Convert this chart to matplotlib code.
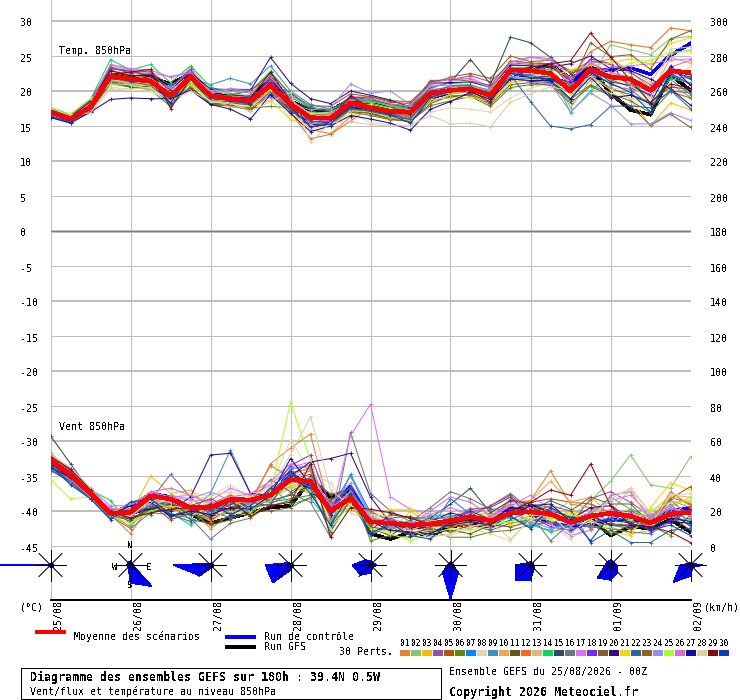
import numpy as np
import matplotlib
matplotlib.use("Agg")
import matplotlib.pyplot as plt
from matplotlib.patches import Rectangle, Polygon
from matplotlib.transforms import ScaledTranslation

plt.rcParams['font.family'] = ['DejaVu Sans Mono', 'DejaVu Sans']
plt.rcParams['text.antialiased'] = False
plt.rcParams['lines.antialiased'] = False
plt.rcParams['patch.antialiased'] = False

hours = list(range(0, 193, 6))
dates = ['25/08', '26/08', '27/08', '28/08', '29/08', '30/08', '31/08', '01/09', '02/09']

colors = ['#E8822E', '#86C470', '#F0C000', '#8E54A8', '#B35410', '#5B8A0C', '#0A84F0', '#E6D6B0',
          '#3F8FBF', '#E8A850', '#6B5020', '#F56A1E', '#D2C07A', '#08D860', '#2C4A60', '#6C7880',
          '#E070F0', '#7A28F0', '#7C6030', '#340A78', '#F0D800', '#2A66A0', '#8E5E24', '#9C8CEC',
          '#A8FF30', '#D070D0', '#1C0AA0', '#E0CCA8', '#840810', '#0A3CC0']

# temperature 850hPa, degC, one row per perturbed member
temp_members = [
    [17.3, 16.2, 18.0, 23.0, 22.3, 21.9, 19.6, 22.4, 19.6, 19.0, 18.7, 21.5, 17.4, 14.5, 13.9, 16.3, 17.9, 17.0, 16.6, 19.3, 20.5, 20.6, 19.8, 22.9, 22.5, 23.7, 21.6, 23.9, 24.6, 22.8, 20.4, 21.0, 19.1],
    [17.5, 16.4, 18.6, 23.5, 22.6, 22.4, 20.0, 22.9, 20.0, 19.5, 19.4, 22.3, 18.4, 16.8, 16.3, 18.9, 18.3, 17.6, 17.4, 20.2, 20.5, 20.9, 19.9, 23.2, 23.1, 23.0, 17.6, 21.6, 26.6, 25.9, 25.2, 27.5, 27.8],
    [17.0, 15.9, 17.4, 21.8, 21.2, 21.0, 19.8, 21.0, 18.6, 18.1, 17.6, 20.3, 16.6, 15.4, 15.2, 17.4, 16.9, 16.4, 16.2, 19.0, 19.8, 20.0, 18.9, 21.4, 22.1, 22.2, 20.9, 21.8, 20.6, 18.9, 15.0, 18.3, 17.3],
    [17.1, 16.1, 18.2, 23.3, 22.9, 22.7, 20.8, 22.7, 19.9, 20.3, 20.2, 21.7, 19.2, 17.4, 17.2, 19.2, 19.0, 18.1, 17.9, 21.5, 21.6, 22.2, 21.3, 24.0, 23.8, 23.9, 22.7, 24.3, 23.8, 22.6, 20.9, 22.4, 21.0],
    [16.9, 15.8, 17.9, 22.6, 22.1, 22.5, 19.1, 22.2, 19.7, 19.0, 18.9, 20.6, 18.9, 16.6, 16.6, 19.0, 19.2, 18.6, 18.5, 21.0, 22.0, 22.5, 21.8, 25.0, 24.2, 24.4, 22.9, 23.4, 21.6, 20.6, 19.3, 23.0, 22.3],
    [16.6, 15.7, 17.2, 21.0, 20.6, 20.2, 17.8, 20.7, 18.0, 17.9, 17.6, 17.8, 17.6, 17.0, 16.9, 17.0, 16.5, 15.9, 15.7, 17.9, 18.6, 19.2, 17.8, 20.5, 20.9, 20.9, 18.8, 20.9, 19.6, 18.6, 16.9, 19.9, 19.0],
    [16.8, 16.0, 17.5, 21.2, 20.7, 21.6, 19.0, 21.5, 19.3, 18.7, 18.4, 20.7, 19.9, 17.4, 15.8, 18.3, 17.3, 16.7, 16.4, 19.6, 20.2, 20.5, 19.9, 22.4, 22.2, 21.4, 21.0, 22.2, 21.9, 21.2, 20.4, 21.7, 19.5],
    [16.5, 15.8, 16.8, 20.3, 20.1, 20.0, 18.5, 20.3, 18.5, 18.2, 17.9, 19.8, 16.0, 14.6, 15.1, 16.9, 15.5, 15.2, 15.0, 17.0, 17.6, 17.4, 17.0, 19.0, 20.4, 21.1, 20.7, 21.3, 19.7, 19.0, 17.9, 21.2, 23.6],
    [17.2, 16.3, 17.8, 22.0, 21.8, 21.3, 19.4, 21.9, 20.9, 21.8, 21.0, 23.6, 20.0, 18.1, 17.4, 18.8, 18.7, 17.9, 17.4, 20.1, 20.6, 20.4, 19.9, 22.0, 22.4, 22.6, 20.5, 21.9, 22.5, 21.0, 19.9, 22.1, 21.8],
    [17.4, 16.5, 18.4, 22.8, 22.4, 21.5, 19.9, 23.5, 19.8, 18.4, 18.2, 20.0, 18.0, 16.5, 16.6, 18.1, 18.5, 18.0, 17.2, 19.4, 20.4, 20.8, 20.1, 23.9, 23.5, 24.7, 22.5, 24.2, 22.0, 21.2, 19.1, 24.8, 24.0],
    [16.7, 15.9, 17.3, 21.4, 20.8, 20.6, 18.4, 20.5, 18.3, 18.0, 17.2, 19.6, 17.2, 15.9, 16.2, 17.1, 16.8, 16.1, 15.9, 18.6, 19.1, 19.6, 18.3, 21.8, 21.4, 21.2, 19.7, 22.3, 20.3, 19.5, 18.4, 20.6, 20.2],
    [17.3, 16.0, 18.1, 22.2, 21.9, 21.7, 19.0, 22.3, 19.1, 18.9, 18.7, 20.5, 17.0, 13.2, 13.8, 15.7, 17.7, 16.9, 16.4, 19.1, 20.0, 20.3, 19.5, 22.7, 22.8, 23.2, 22.0, 25.6, 27.1, 26.6, 26.2, 29.0, 28.6],
    [16.9, 16.1, 17.6, 22.5, 21.4, 20.9, 19.2, 21.7, 19.0, 18.6, 18.3, 19.3, 17.9, 16.9, 16.7, 18.0, 17.4, 16.3, 16.1, 18.4, 19.5, 19.9, 18.7, 21.5, 22.0, 23.1, 20.1, 21.4, 21.5, 23.0, 21.3, 25.3, 25.9],
    [17.6, 16.6, 18.8, 24.5, 23.0, 23.8, 21.2, 23.6, 20.6, 19.6, 20.0, 22.8, 19.4, 17.7, 17.3, 18.6, 18.6, 17.8, 17.5, 20.6, 21.1, 20.9, 20.0, 23.4, 23.3, 23.0, 16.9, 20.0, 22.3, 22.1, 18.1, 21.8, 21.2],
    [17.0, 16.4, 17.7, 21.7, 21.5, 21.2, 18.8, 22.0, 19.6, 19.2, 19.3, 20.9, 18.4, 17.6, 16.9, 19.1, 18.8, 18.1, 17.6, 20.4, 21.3, 24.5, 21.0, 27.7, 26.9, 24.8, 22.5, 23.5, 21.3, 20.8, 19.4, 23.1, 21.7],
    [16.4, 15.7, 17.0, 22.3, 21.6, 21.1, 18.0, 21.2, 18.8, 18.5, 18.1, 21.1, 17.5, 16.0, 15.6, 17.3, 17.2, 16.6, 16.3, 19.2, 20.3, 20.4, 19.2, 21.9, 21.8, 21.3, 18.6, 23.0, 20.9, 20.2, 18.0, 20.0, 19.7],
    [17.1, 16.2, 18.3, 23.7, 23.0, 22.6, 22.0, 22.8, 19.5, 19.3, 19.1, 19.2, 18.3, 15.3, 15.9, 19.4, 17.5, 17.3, 15.9, 20.3, 21.4, 21.9, 20.6, 23.6, 24.8, 24.4, 20.9, 21.9, 23.4, 23.6, 23.9, 24.4, 24.6],
    [17.2, 15.9, 17.6, 23.2, 22.8, 22.2, 20.5, 23.1, 19.4, 19.1, 18.6, 21.9, 18.6, 15.6, 15.7, 18.5, 17.8, 17.1, 16.8, 20.0, 20.3, 20.6, 19.6, 23.2, 23.0, 23.6, 21.4, 24.6, 23.9, 20.4, 19.5, 22.6, 20.9],
    [16.8, 15.6, 17.1, 21.3, 20.5, 20.4, 18.9, 20.2, 18.2, 17.8, 17.4, 19.9, 17.3, 16.3, 16.4, 17.6, 16.7, 16.0, 15.6, 18.2, 19.3, 19.4, 18.1, 20.9, 21.2, 20.8, 18.3, 20.7, 19.3, 17.9, 15.1, 16.7, 14.8],
    [17.4, 16.3, 18.5, 22.9, 22.2, 22.3, 20.2, 22.6, 20.3, 20.2, 20.1, 24.8, 21.1, 18.9, 18.2, 20.0, 19.4, 18.7, 17.7, 21.1, 21.2, 21.3, 20.5, 23.7, 23.6, 23.4, 23.9, 25.0, 23.2, 22.9, 21.7, 20.3, 18.0],
    [16.7, 16.0, 17.4, 21.6, 21.1, 20.7, 19.5, 20.9, 18.9, 17.7, 17.8, 18.7, 15.9, 15.1, 14.9, 17.2, 17.0, 16.2, 15.8, 18.8, 19.0, 19.1, 18.5, 21.2, 21.6, 22.0, 23.0, 23.7, 24.0, 24.6, 23.9, 26.8, 27.6],
    [16.3, 15.5, 17.5, 21.9, 21.3, 20.8, 18.2, 21.4, 18.7, 18.3, 18.0, 20.4, 17.1, 15.7, 15.4, 17.5, 17.1, 16.5, 16.0, 19.5, 20.8, 20.7, 19.0, 22.3, 18.5, 15.0, 14.6, 15.2, 17.8, 17.9, 17.6, 20.1, 17.5],
    [17.0, 16.6, 18.7, 23.4, 22.5, 22.9, 19.7, 22.1, 19.2, 19.4, 20.0, 22.5, 19.6, 17.9, 17.8, 19.6, 19.2, 18.4, 18.2, 21.3, 21.7, 21.4, 20.8, 24.3, 24.0, 23.9, 20.7, 26.9, 24.9, 25.2, 23.1, 27.4, 28.6],
    [16.6, 15.8, 17.3, 21.5, 21.0, 21.4, 20.4, 21.6, 20.0, 20.3, 20.0, 19.0, 18.2, 17.3, 17.6, 21.0, 19.7, 20.0, 18.0, 20.9, 20.7, 20.5, 20.2, 22.1, 21.3, 21.0, 17.0, 19.7, 18.0, 15.3, 15.3, 16.9, 15.8],
    [17.7, 16.7, 18.9, 21.0, 20.9, 20.3, 18.7, 21.3, 18.4, 18.8, 18.5, 20.2, 18.7, 16.7, 17.0, 18.2, 18.1, 17.5, 16.9, 19.8, 19.6, 20.1, 19.3, 22.5, 22.7, 22.3, 19.5, 23.3, 22.4, 24.0, 24.4, 25.6, 25.6],
    [17.2, 16.1, 18.2, 23.8, 23.2, 23.0, 22.0, 22.6, 19.7, 20.0, 19.7, 22.0, 18.8, 16.4, 16.8, 18.7, 18.9, 18.2, 17.8, 21.0, 21.8, 21.7, 20.4, 24.1, 24.9, 24.6, 21.8, 24.0, 22.7, 21.8, 20.0, 23.4, 24.4],
    [16.2, 15.4, 17.0, 18.8, 19.0, 18.9, 18.9, 20.1, 18.1, 17.4, 16.0, 19.5, 16.8, 14.2, 15.0, 16.5, 16.0, 15.4, 14.4, 17.4, 18.5, 19.8, 18.8, 21.7, 21.5, 21.5, 18.9, 22.0, 19.0, 19.4, 18.2, 23.6, 20.8],
    [17.5, 16.5, 16.9, 20.5, 20.3, 20.5, 18.6, 20.0, 18.6, 18.3, 17.1, 18.5, 19.8, 12.7, 15.5, 15.6, 15.2, 15.0, 15.1, 16.5, 15.3, 15.4, 14.9, 18.4, 19.6, 20.6, 20.0, 22.1, 20.2, 20.7, 19.0, 26.0, 26.3],
    [17.1, 16.3, 17.8, 22.4, 22.7, 23.1, 17.5, 21.8, 19.5, 19.0, 19.0, 22.7, 18.5, 16.1, 16.0, 19.3, 17.6, 16.8, 16.7, 19.9, 20.2, 20.0, 18.4, 22.8, 23.4, 23.9, 24.3, 28.3, 24.9, 21.5, 18.3, 21.0, 20.4],
    [16.4, 15.6, 17.7, 22.2, 21.5, 21.6, 18.3, 22.3, 19.0, 18.6, 18.2, 21.2, 17.7, 14.9, 15.3, 17.8, 17.3, 16.6, 15.4, 19.1, 19.9, 20.2, 19.1, 22.6, 21.9, 21.7, 20.2, 22.6, 21.1, 19.8, 17.0, 22.7, 22.0],
]
temp_mean = [17.0, 16.0, 17.7, 22.1, 21.7, 21.4, 19.3, 22.1, 19.3, 18.9, 18.6, 20.8, 18.1, 16.2, 16.1, 18.3, 17.6, 17.1, 17.0, 19.7, 20.1, 20.3, 19.4, 23.0, 22.9, 22.5, 20.0, 23.1, 22.0, 21.7, 20.1, 22.9, 22.6]
temp_control = [17.0, 16.0, 17.6, 22.0, 21.7, 21.5, 18.4, 22.0, 19.0, 18.6, 18.4, 21.3, 17.6, 15.1, 15.3, 17.6, 17.0, 16.6, 15.8, 19.0, 19.8, 20.0, 19.2, 22.6, 22.0, 21.8, 21.1, 23.3, 22.9, 23.3, 22.4, 25.1, 26.8]
temp_gfs = [17.0, 16.0, 17.7, 22.3, 22.0, 22.0, 21.0, 22.5, 19.5, 19.3, 19.0, 21.9, 18.6, 17.2, 17.2, 18.8, 18.2, 17.5, 17.0, 19.7, 20.0, 20.3, 19.2, 23.0, 22.9, 23.7, 21.8, 23.3, 19.7, 17.3, 16.6, 22.3, 20.1]

# wind 850hPa, km/h, same members
wind_members = [
    [50, 41, 30, 18, 7, 24, 20, 22, 10, 18, 24, 47, 56, 64, 19, 24, 16, 12, 9, 14, 11, 19, 14, 20, 26, 43, 24, 22, 19, 16, 13, 26, 22],
    [47, 39, 32, 19, 14, 22, 25, 17, 21, 24, 19, 28, 34, 30, 14, 22, 13, 15, 10, 8, 13, 17, 12, 14, 17, 19, 16, 26, 37, 52, 35, 33, 51],
    [49, 42, 28, 21, 18, 40, 30, 32, 21, 20, 23, 29, 36, 32, 23, 27, 11, 8, 20, 12, 16, 22, 15, 18, 22, 15, 20, 18, 11, 7, 9, 22, 28],
    [45, 38, 31, 17, 22, 26, 41, 28, 18, 27, 19, 30, 42, 44, 18, 31, 15, 13, 12, 15, 17, 19, 23, 30, 21, 20, 12, 27, 31, 25, 17, 26, 17],
    [52, 43, 33, 20, 20, 29, 17, 21, 24, 29, 24, 32, 38, 41, 11, 25, 8, 11, 6, 11, 12, 10, 16, 26, 25, 27, 25, 24, 19, 20, 15, 28, 24],
    [46, 40, 29, 19, 17, 18, 25, 20, 15, 21, 26, 25, 27, 29, 26, 33, 3, 6, 5, 9, 5, 5, 8, 9, 12, 14, 10, 12, 7, 12, 12, 6, 18],
    [44, 37, 27, 18, 25, 28, 22, 24, 20, 16, 21, 27, 44, 46, 16, 41, 19, 15, 13, 10, 27, 18, 11, 17, 11, 14, 8, 15, 20, 15, 9, 20, 11],
    [51, 44, 30, 22, 21, 27, 26, 31, 28, 35, 27, 33, 61, 42, 36, 19, 14, 8, 11, 6, 6, 10, 7, 3, 16, 12, 4, 13, 16, 9, 14, 16, 27],
    [48, 39, 30, 20, 19, 25, 23, 19, 30, 55, 30, 25, 37, 34, 22, 40, 17, 10, 14, 12, 15, 14, 17, 24, 12, 9, 15, 19, 14, 17, 11, 24, 13],
    [50, 41, 31, 19, 24, 30, 28, 29, 25, 23, 19, 30, 40, 45, 20, 26, 12, 17, 9, 13, 10, 16, 20, 25, 26, 37, 25, 28, 18, 21, 16, 28, 25],
    [47, 38, 28, 16, 16, 20, 24, 15, 13, 17, 25, 23, 26, 35, 25, 24, 10, 6, 13, 8, 9, 7, 12, 11, 14, 17, 13, 17, 12, 10, 13, 13, 21],
    [53, 43, 32, 18, 11, 26, 21, 20, 14, 22, 26, 46, 39, 43, 15, 25, 20, 14, 12, 11, 13, 11, 13, 27, 24, 22, 14, 17, 20, 14, 12, 31, 23],
    [46, 40, 29, 21, 20, 23, 27, 18, 22, 30, 22, 27, 33, 38, 21, 28, 18, 12, 8, 9, 14, 14, 19, 19, 23, 18, 26, 21, 19, 33, 19, 29, 28],
    [49, 42, 32, 26, 12, 21, 19, 12, 19, 25, 18, 34, 24, 27, 13, 32, 16, 10, 15, 17, 18, 13, 15, 16, 13, 8, 11, 18, 28, 21, 16, 19, 15],
    [63, 47, 31, 20, 15, 22, 26, 23, 17, 19, 28, 26, 29, 40, 29, 33, 9, 18, 16, 16, 24, 33, 19, 26, 24, 20, 17, 14, 15, 13, 10, 18, 12],
    [44, 36, 27, 17, 10, 19, 18, 16, 4, 13, 16, 24, 30, 25, 5, 65, 30, 20, 14, 22, 31, 27, 21, 21, 18, 3, 13, 11, 10, 8, 7, 14, 16],
    [48, 41, 33, 23, 23, 31, 28, 26, 26, 33, 29, 35, 45, 48, 17, 63, 81, 28, 21, 18, 22, 18, 16, 23, 29, 21, 11, 20, 26, 29, 18, 23, 17],
    [50, 43, 30, 20, 18, 27, 24, 21, 17, 24, 27, 31, 46, 52, 22, 34, 13, 16, 11, 13, 15, 21, 22, 28, 17, 11, 9, 13, 16, 19, 8, 15, 20],
    [45, 37, 29, 19, 14, 24, 15, 19, 12, 15, 20, 20, 22, 28, 27, 29, 11, 9, 7, 10, 8, 12, 9, 13, 15, 13, 17, 10, 13, 11, 15, 17, 9],
    [47, 39, 28, 18, 20, 21, 20, 28, 52, 53, 30, 29, 40, 48, 50, 53, 28, 13, 10, 14, 19, 16, 14, 22, 20, 18, 15, 22, 23, 16, 14, 16, 14],
    [49, 40, 30, 21, 22, 25, 22, 24, 16, 20, 17, 26, 35, 31, 19, 23, 15, 21, 21, 15, 12, 13, 18, 12, 18, 16, 19, 15, 8, 6, 22, 36, 32],
    [43, 37, 27, 16, 19, 23, 18, 14, 20, 26, 22, 24, 41, 33, 8, 27, 6, 12, 12, 16, 16, 15, 10, 15, 20, 26, 21, 2, 9, 2, 2, 9, 10],
    [51, 42, 31, 20, 16, 28, 16, 23, 27, 22, 25, 38, 31, 37, 30, 30, 12, 16, 17, 12, 11, 17, 23, 29, 19, 23, 20, 28, 24, 24, 13, 27, 34],
    [46, 38, 28, 22, 17, 24, 29, 27, 31, 26, 24, 28, 37, 39, 24, 36, 17, 11, 13, 18, 14, 12, 11, 19, 14, 10, 12, 16, 21, 18, 17, 21, 19],
    [38, 27, 28, 17, 13, 20, 23, 17, 23, 27, 20, 31, 82, 49, 10, 24, 10, 7, 3, 7, 10, 9, 12, 14, 16, 15, 18, 14, 11, 15, 20, 25, 26],
    [48, 40, 30, 21, 21, 31, 33, 29, 24, 28, 30, 37, 47, 44, 21, 31, 16, 14, 12, 20, 28, 25, 17, 24, 22, 13, 6, 9, 29, 31, 15, 22, 18],
    [45, 39, 29, 18, 23, 25, 17, 20, 18, 22, 21, 29, 50, 35, 18, 28, 14, 9, 8, 7, 13, 15, 13, 18, 23, 24, 14, 18, 12, 12, 11, 14, 13],
    [52, 45, 33, 19, 17, 26, 25, 25, 29, 31, 28, 34, 52, 74, 32, 23, 18, 17, 9, 5, 7, 11, 14, 4, 15, 18, 7, 16, 27, 33, 12, 29, 30],
    [51, 44, 32, 20, 16, 19, 21, 22, 16, 26, 17, 23, 25, 47, 5, 22, 21, 19, 16, 12, 12, 14, 12, 20, 25, 32, 29, 47, 23, 12, 11, 8, 2],
    [46, 35, 27, 15, 25, 27, 18, 18, 24, 18, 23, 33, 43, 30, 12, 30, 7, 13, 6, 4, 14, 20, 15, 17, 10, 22, 16, 3, 18, 13, 9, 12, 6],
]
wind_mean = [49, 40.6, 30, 18.7, 19.3, 28.7, 26.8, 21.9, 22, 26.7, 26.3, 29.1, 38, 36.8, 20.2, 27.2, 13.8, 13, 12, 12.6, 14.5, 16.8, 14.3, 18.7, 19.6, 18.3, 13.5, 17.1, 18.7, 17.1, 13.3, 18.3, 19.3]
wind_control = [46, 40, 31, 20, 22, 30, 28, 22, 21, 21, 26, 28, 42, 33, 22, 34, 14, 12, 10, 12, 14, 16, 13, 22, 19, 13, 11, 12, 15, 14, 14, 20, 22]
wind_gfs = [47, 40, 30, 19, 19, 21, 23, 18, 13, 16, 19, 22, 23, 38, 28, 32, 7, 4, 8, 6, 11, 13, 11, 20, 23, 18, 13, 16, 6, 11, 10, 15, 8]

# wind rose, one row per day, radius in pixels for N, NE, E, SE, S, SW, W, NW
rose_radius = [
    [1, 1, 1, 1, 1, 1, 50, 1],
    [4, 2, 2, 30, 18, 3, 4, 3],
    [1, 2, 3, 3, 3, 15, 37, 2],
    [1, 1, 2, 2, 5, 25, 25, 3],
    [4, 3, 6, 3, 8, 14, 18, 7],
    [3, 2, 2, 11, 34, 11, 3, 2],
    [3, 3, 3, 5, 15, 21, 15, 3],
    [5, 4, 6, 10, 15, 18, 5, 4],
    [2, 2, 12, 3, 11, 24, 10, 2],
]

GRID = '#BEBEBE'
BLUE = '#0000FF'
PX = 0.72  # px -> pt at dpi 100
FS = 7.2


def px_rect(left, top, right, bottom):
    return [left / 740, 1 - bottom / 700, (right - left) / 740, (bottom - top) / 700]


fig = plt.figure(figsize=(7.4, 7.0), dpi=100)
ax = fig.add_axes(px_rect(50.5, 0, 690.5, 600))
ax.set_xlim(0, 192)
ax.set_ylim(-45 - 54 / 7, 33)
ax2 = ax.twinx()
ax2.set_ylim((-54 / 7) * 4, 78 * 4)

# grid
ax.set_yticks(list(range(-45, 31, 5)))
ax.set_yticklabels([str(v) for v in range(-45, 31, 5)], fontsize=FS)
ax.set_xticks(hours[::4])
ax.set_xticklabels(dates, rotation=90, fontsize=FS, va='top', ha='center')
ax.set_axisbelow(True)
ax.grid(True, color=GRID, linewidth=PX)
for val, line in zip(range(-45, 31, 5), ax.get_ygridlines()):
    if val == 0:
        line.set_linewidth(3 * PX)
    elif val % 10 == 0:
        line.set_linewidth(2 * PX)
ax.axhline(0, color='#808080', lw=PX, zorder=1.5)
for s in ['left', 'right', 'top']:
    ax.spines[s].set_visible(False)
    ax2.spines[s].set_visible(False)
ax2.spines['bottom'].set_visible(False)
ax.spines['bottom'].set_linewidth(2 * PX)
ax.tick_params(axis='y', length=0, pad=22)
ax.tick_params(axis='x', length=0, pad=0)
ax2.set_yticks(list(range(0, 301, 20)))
ax2.set_yticklabels([str(v) for v in range(0, 301, 20)], fontsize=FS)
ax2.tick_params(axis='y', length=0, pad=14)

# tick labels sit a little lower than their lines, dates right of theirs
down = ScaledTranslation(0, -1.5 / 100, fig.dpi_scale_trans)
right = ScaledTranslation(7.5 / 100, 0, fig.dpi_scale_trans)
for lab in ax.get_yticklabels():
    lab.set_ha('left')
    lab.set_transform(lab.get_transform() + down)
for lab in ax2.get_yticklabels():
    lab.set_transform(lab.get_transform() + down)
for lab in ax.get_xticklabels():
    lab.set_transform(lab.get_transform() + right)

# gfs and control first, members over them, mean on top
ax.plot(hours, temp_gfs, color='black', lw=2.5 * PX, zorder=2.5)
ax.plot(hours, temp_control, color=BLUE, lw=2.5 * PX, zorder=2.6)
ax2.plot(hours, wind_gfs, color='black', lw=2.5 * PX, zorder=2.5)
ax2.plot(hours, wind_control, color=BLUE, lw=2.5 * PX, zorder=2.6)
thin = dict(lw=0.75, marker='+', ms=2.8, mew=0.6, antialiased=True, zorder=3)
for i in range(30):
    ax.plot(hours, temp_members[i], color=colors[i], **thin)
    ax2.plot(hours, wind_members[i], color=colors[i], **thin)
ax.plot(hours, temp_mean, color='#FF0000', lw=3.5 * PX, zorder=6)
ax2.plot(hours, wind_mean, color='#FF0000', lw=3.5 * PX, zorder=6)

# overlay in pixel coordinates for the roses and the legend block
ov = fig.add_axes([0, 0, 1, 1])
ov.set_xlim(0, 740)
ov.set_ylim(700, 0)
ov.axis('off')
ov.patch.set_alpha(0)

angles = np.deg2rad(np.arange(0, 360, 45))
star = dict(color='black', lw=0.75, antialiased=True, zorder=3)
for day in range(9):
    cx = 50.5 + 80 * day
    cy = 565
    r = np.array(rose_radius[day])
    ov.add_patch(Polygon(np.c_[cx + r * np.sin(angles), cy - r * np.cos(angles)], closed=True,
                         facecolor=BLUE, edgecolor=BLUE, lw=0.5 * PX, zorder=2))
    ov.plot([cx - 15.5, cx + 15.5], [cy, cy], **star)
    ov.plot([cx, cx], [cy - 15.5, cy + 15.5], **star)
    ov.plot([cx - 11.5, cx + 11.5], [cy - 11.5, cy + 11.5], **star)
    ov.plot([cx - 11.5, cx + 11.5], [cy + 11.5, cy - 11.5], **star)
    ov.plot([cx], [cy], 'o', color='#000033', ms=4, mew=0, zorder=4)

small = dict(fontsize=6.2, ha='center', va='center', fontweight='bold', zorder=5)
ov.text(130.5, 546, 'N', **small)
ov.text(130.5, 586, 'S', **small)
ov.text(115, 567, 'W', **small)
ov.text(149, 567, 'E', **small)

txt = dict(fontsize=FS, va='center', ha='left')
ov.text(59, 51, 'Temp. 850hPa', **txt)
ov.text(59, 427, 'Vent 850hPa', **txt)
ov.text(20, 607, '(°C)', **txt)
ov.text(703.5, 607, '(km/h)', **txt)

ov.add_patch(Rectangle((35, 630), 31, 4, facecolor='#FF0000', edgecolor='none'))
ov.add_patch(Rectangle((225, 635), 31, 4, facecolor=BLUE, edgecolor='none'))
ov.add_patch(Rectangle((225, 645), 31, 4, facecolor='black', edgecolor='none'))
ov.text(74, 637, 'Moyenne des scénarios', **txt)
ov.text(264, 637, 'Run de contrôle', **txt)
ov.text(264, 647, 'Run GFS', **txt)
ov.text(339, 652, '30 Perts.', **txt)

for i in range(30):
    x0 = 400 + 11 * i
    ov.add_patch(Rectangle((x0, 650), 10, 6, facecolor=colors[i], edgecolor='none'))
    ov.text(x0 + 5, 644, '%02d' % (i + 1), fontsize=5.6, ha='center', va='center')

ov.add_patch(Rectangle((20.5, 667.5), 420, 31.5, facecolor='white', edgecolor='black', lw=PX))
ov.text(30, 677, 'Diagramme des ensembles GEFS sur 180h : 39.4N 0.5W', fontsize=8.4,
        fontweight='bold', va='center', ha='left')
ov.text(30, 692, 'Vent/flux et température au niveau 850hPa', **txt)
ov.text(449, 672, 'Ensemble GEFS du 25/08/2026 - 00Z', **txt)
ov.text(449, 692, 'Copyright 2026 Meteociel.fr', fontsize=8.4, fontweight='bold', va='center', ha='left')

fig.savefig('out.png', dpi=100)
